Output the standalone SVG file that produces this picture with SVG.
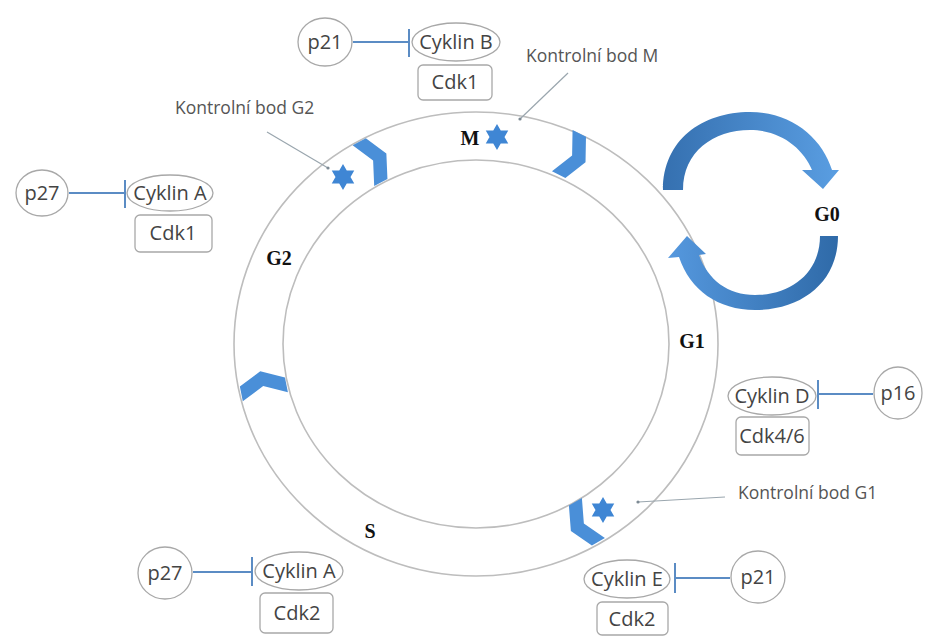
<svg xmlns="http://www.w3.org/2000/svg" xmlns:xlink="http://www.w3.org/1999/xlink" width="928" height="637" viewBox="0 0 928 637">
<style>
  .ring { fill: none; stroke: #bdbdbd; stroke-width: 1.6; }
  .node { fill: #fff; stroke: #a8a8a8; stroke-width: 1.3; }
  .ntext { font-family: "Open Sans", "Noto Sans", sans-serif; font-size: 20px; fill: #444; text-anchor: middle; }
  .label { font-family: "Open Sans", "Noto Sans", sans-serif; font-size: 17.5px; fill: #555; }
  .phase { font-family: "Liberation Serif", serif; font-weight: bold; font-size: 20px; fill: #111; text-anchor: middle; }
  .inh { stroke: #5b8cc4; stroke-width: 2; fill: none; }
  .ptr { stroke: #9aa6ae; stroke-width: 1.2; fill: none; }
  .chev { fill: #4a8fd8; }
  .star { fill: #3f86d4; }
</style>
<defs>
  <polygon id="chevron" points="-12,-23 3,-23 14,0 3,23 -12,23 -1,0"/>
  <path id="star6" d="M0,-13 L11.26,6.5 L-11.26,6.5 Z M0,13 L-11.26,-6.5 L11.26,-6.5 Z"/>
  <linearGradient id="gTop" x1="663" y1="0" x2="840" y2="0" gradientUnits="userSpaceOnUse">
    <stop offset="0" stop-color="#3570b0"/>
    <stop offset="1" stop-color="#5a9ee2"/>
  </linearGradient>
  <linearGradient id="gBot" x1="838" y1="0" x2="668" y2="0" gradientUnits="userSpaceOnUse">
    <stop offset="0" stop-color="#2f6aa8"/>
    <stop offset="1" stop-color="#5598de"/>
  </linearGradient>
</defs>

<g id="cycle">
  <ellipse class="ring" cx="476" cy="344" rx="242" ry="232"/>
  <ellipse class="ring" cx="476" cy="344" rx="193" ry="184"/>
  <use href="#chevron" class="chev" transform="translate(374,160) rotate(-28)"/>
  <use href="#chevron" class="chev" transform="translate(573,156) rotate(26.6)"/>
  <use href="#chevron" class="chev" transform="translate(263,385) rotate(258.7)"/>
  <use href="#chevron" class="chev" transform="translate(583,524) rotate(150)"/>
  <text class="phase" x="470" y="145">M</text>
  <text class="phase" x="279" y="265">G2</text>
  <text class="phase" x="370" y="538">S</text>
  <text class="phase" x="692" y="348">G1</text>
</g>

<g id="g0">
  <path fill="url(#gTop)" d="M663,190 C663,140 702,112 750,112 C792,112 822,138 832,170 L839,170 L823,189 L802,170 L812,170 C803,148 780,130 750,130 C713,130 683,152 683,190 Z"/>
  <path fill="url(#gBot)" d="M838,236 C838,282 802,310 755,310 C718,310 690,290 679,257 L668,258 L687,236 L706,254 L699,255 C708,280 728,295 755,295 C792,295 820,272 820,236 Z"/>
  <text class="phase" x="827" y="221">G0</text>
</g>

<g id="checkpoint-G2">
  <use href="#star6" class="star" transform="translate(343,177)"/>
  <text class="label" x="175" y="114">Kontrolní bod G2</text>
</g>
<g id="checkpoint-M">
  <use href="#star6" class="star" transform="translate(497,137)"/>
  <text class="label" x="526" y="62">Kontrolní bod M</text>
</g>
<g id="checkpoint-G1">
  <use href="#star6" class="star" transform="translate(603,510)"/>
  <text class="label" x="738" y="499">Kontrolní bod G1</text>
</g>

<g id="connectors">
  <line class="inh" x1="353" y1="42" x2="409" y2="42"/>
  <line class="inh" x1="409" y1="29" x2="409" y2="57"/>
  <line class="inh" x1="69" y1="193" x2="125" y2="193"/>
  <line class="inh" x1="125" y1="180" x2="125" y2="208"/>
  <line class="inh" x1="873" y1="394" x2="818" y2="394"/>
  <line class="inh" x1="818" y1="380" x2="818" y2="409"/>
  <line class="inh" x1="193" y1="572" x2="252" y2="572"/>
  <line class="inh" x1="252" y1="557" x2="252" y2="586"/>
  <line class="inh" x1="730" y1="578" x2="675" y2="578"/>
  <line class="inh" x1="675" y1="563" x2="675" y2="593"/>
  <line class="ptr" x1="267" y1="132" x2="328" y2="168"/>
  <circle cx="328" cy="168" r="1.6" fill="#7d8a94"/>
  <line class="ptr" x1="568" y1="73" x2="520" y2="119"/>
  <circle cx="520" cy="119" r="1.6" fill="#7d8a94"/>
  <line class="ptr" x1="725" y1="497" x2="638" y2="502"/>
  <circle cx="638" cy="502" r="1.6" fill="#7d8a94"/>
</g>

<g id="p21-top"><ellipse class="node" cx="325" cy="42" rx="27" ry="24"/><text class="ntext" x="325" y="49">p21</text></g>
<g id="cyklinB"><ellipse class="node" cx="456" cy="42" rx="44" ry="19"/><text class="ntext" x="456" y="49">Cyklin B</text></g>
<g id="cdk1-top"><rect class="node" x="418" y="65" width="74" height="35" rx="5"/><text class="ntext" x="455" y="89">Cdk1</text></g>

<g id="p27-left"><ellipse class="node" cx="42" cy="193" rx="26" ry="23"/><text class="ntext" x="42" y="200">p27</text></g>
<g id="cyklinA-left"><ellipse class="node" cx="170" cy="193" rx="43" ry="18"/><text class="ntext" x="170" y="200">Cyklin A</text></g>
<g id="cdk1-left"><rect class="node" x="135" y="215" width="77" height="37" rx="5"/><text class="ntext" x="173" y="240">Cdk1</text></g>

<g id="cyklinD"><ellipse class="node" cx="772" cy="396" rx="44" ry="19"/><text class="ntext" x="772" y="403">Cyklin D</text></g>
<g id="p16"><ellipse class="node" cx="898" cy="393" rx="24" ry="26"/><text class="ntext" x="898" y="400">p16</text></g>
<g id="cdk46"><rect class="node" x="736" y="417" width="73" height="38" rx="5"/><text class="ntext" x="772" y="443">Cdk4/6</text></g>

<g id="p27-bottom"><ellipse class="node" cx="165" cy="573" rx="27" ry="26"/><text class="ntext" x="165" y="580">p27</text></g>
<g id="cyklinA-bottom"><ellipse class="node" cx="299" cy="571" rx="44" ry="19"/><text class="ntext" x="299" y="578">Cyklin A</text></g>
<g id="cdk2-bottom"><rect class="node" x="260" y="593" width="73" height="40" rx="5"/><text class="ntext" x="297" y="620">Cdk2</text></g>

<g id="cyklinE"><ellipse class="node" cx="627" cy="579" rx="43" ry="19"/><text class="ntext" x="627" y="586">Cyklin E</text></g>
<g id="p21-bottom"><ellipse class="node" cx="758" cy="577" rx="27" ry="26"/><text class="ntext" x="758" y="584">p21</text></g>
<g id="cdk2-right"><rect class="node" x="597" y="602" width="71" height="33" rx="5"/><text class="ntext" x="632" y="626">Cdk2</text></g>
</svg>
